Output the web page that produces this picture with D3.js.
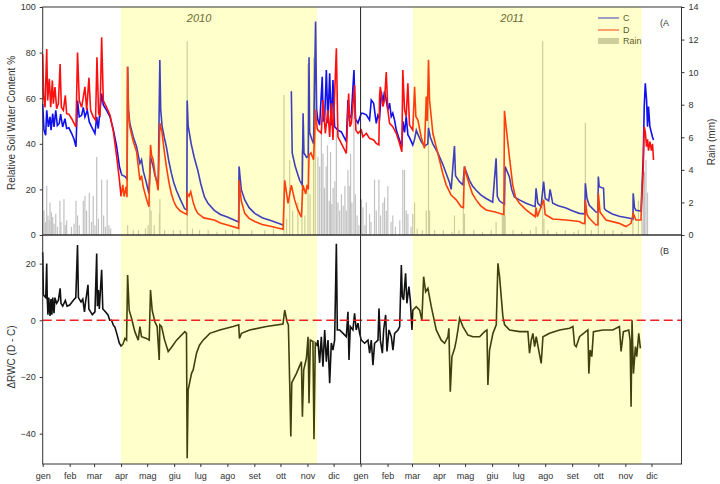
<!DOCTYPE html>
<html>
<head>
<meta charset="utf-8">
<script src="https://cdn.jsdelivr.net/npm/d3@7"></script>
<style>
  body { margin: 0; background: #fff; }
  svg text { font-family: 'Liberation Sans', Arial, sans-serif; fill: #333; }
</style>
</head>
<body>
<div id="chart"></div>
<script>
// day numbers count from 1 Jan 2010
const monthLabels = ['gen', 'feb', 'mar', 'apr', 'mag', 'giu', 'lug', 'ago', 'set', 'ott', 'nov', 'dic'];
const shadedPeriods = [[90, 315], [425, 688]];
const yearLabels = [['2010', 179.5], ['2011', 539]];

// C (blue), relative soil water content %
const rwcC = [[0,57.6],[1.5,46],[3.4,43.8],[4.6,54.7],[6.5,47.4],[8.4,51.8],[9.6,46],[11.5,53.2],[13,47.4],[15,54.7],[16.8,48],[19,48.9],[20.6,53],[22.9,47.4],[25.6,51],[27.5,46.7],[30,47],[33.3,44.5],[36,42],[38.2,38.7],[40,59],[42,51.8],[44.7,52.5],[46.6,56],[48.5,51.8],[51.2,54.7],[53.5,49.6],[56.2,47.4],[60,44.5],[62,51.8],[63.8,46.7],[67.7,62],[69.6,57],[73.4,54.7],[77.3,51.8],[81.2,46],[85,38.7],[88.1,30],[90.8,26.3],[94.7,25.6],[97,24.5],[97.5,73.8],[98.5,55],[100,49],[104,43],[107.8,38.7],[111.6,31.4],[113.5,33],[115.5,28],[119,23],[122,18.2],[123.8,34.3],[126.8,30],[129,26],[132.6,21.9],[134.5,76.7],[135.5,55],[137,48],[139.5,43],[142,38.7],[145,32],[147.8,27],[150.5,23],[153.5,19.6],[158,15.6],[163,11.5],[165.5,11],[165.9,59],[167,48],[170.5,40],[174,34],[178,28.5],[181.5,22.5],[185.7,16.7],[190,13.8],[197,10.8],[204,9],[212,7.9],[225,5.7],[225.5,30],[228,20],[232,15.4],[237,12],[243.5,9.5],[252,7.6],[262.6,6.3],[276,4.4],[277,null],[285.5,63],[286.5,36],[290,30],[295,24],[298,22],[299,53.4],[300,36],[303,34],[305,34.5],[305.8,78],[306.5,45],[309,42],[311,40],[313.4,93.6],[314.5,55],[316,50.4],[318,48.2],[321,69.4],[322,50],[323.7,50.4],[325.7,72.4],[327.5,49],[329.5,70.9],[331.4,48],[333.3,68],[335.2,47.5],[339,46],[342.9,45.2],[348.6,41],[350.5,59.2],[352,51],[354.4,52.6],[357.4,72.4],[359,51],[362,49.1],[365.8,53.4],
  [367.7,53.4],[371.6,52.7],[375.3,50.4],[377.3,59.2],[380,57.8],[383,49],[384.9,52.6],[386.8,51.2],[388.8,62.9],[390.6,58],[392.5,63],[394.5,59.2],[396.3,54.8],[398.3,57.8],[400.2,51.9],[402,53.4],[404,50.4],[406,46],[409.7,41.7],[412.4,38.7],[413.5,50],[415.5,45],[417.4,52],[419.3,44],[421.2,42.7],[425,39.5],[427,42],[429,46],[431,44],[434.6,41],[438.4,39],[442.2,40],[443,47],[445,43],[448,40],[453.7,36],[459.4,31],[463.3,27],[467.1,23],[469,20],[472.8,39],[474,26],[478.6,23.4],[482.5,22],[484.3,30],[486,28],[490,24],[493.5,21.5],[497.7,19.6],[503,17.6],[509.2,16],[516.7,14.4],[520.6,33.6],[522,17],[524.4,15],[528.2,14],[530.2,13.5],[531,30],[532.1,29],[535.9,25.5],[538.5,20],[541.6,16.7],[547.4,15.4],[555,13.9],[565.4,12.4],[566.5,20.5],[568.5,14],[572.2,12.4],[575.2,23.4],[577,16],[581,15],[582.6,20],[585.6,13.9],[592,12.8],[600.9,11.8],[608,10.6],[616.2,9.5],[622.5,9.3],[623.1,22.7],[625,16],[627.6,13],[635.3,10.1],[637.5,10],[638,25.6],[639,21.2],[644,20.5],[645,11.5],[646.8,10.8],[654,9.2],[662,8.2],[675.5,7.2],[677.8,7],[678.1,18.2],[679.5,12],[681.2,10.8],[686.9,10.5],[689.6,34.3],[690.7,56.3],[691.9,66.5],[693.4,59.2],[694.5,47.5],[695.6,56.3],[697.2,47.5],[700.2,43],[701.4,41.7]];

// D (red), relative soil water content %
const rwcD = [[0,79.4],[1.1,60.5],[2.7,56],[4.6,81.6],[5.7,59],[7.6,68.5],[9.2,56],[11.1,67.8],[12.2,57.6],[14.1,64.9],[16,55.4],[18,57.6],[20,75],[21.4,56],[23.7,54.7],[26,61.2],[27.5,53.2],[30,53],[33.3,51],[36,49],[38.2,47.4],[40,80],[42,59],[44.7,56],[48.5,65],[50.5,54.7],[53.1,69],[55,54.7],[58,51.8],[60.7,50.3],[62.3,78],[64.2,53.2],[65.8,52.5],[67.7,86.7],[69.6,59],[73.4,56],[77.3,52.5],[81.2,45.2],[85,34.3],[88.1,24.1],[90,16.9],[92,22],[93.5,16.9],[95.8,21.2],[96.8,16.6],[97.5,73.8],[98.5,54],[100,47.5],[104,41],[107.8,36.5],[111.6,24],[113.5,26],[115.5,21],[119,16],[122,12.4],[123.8,39.5],[125,35],[126.8,33],[129,27],[132.6,19.6],[134.5,49],[137,45],[139.5,37],[142,30],[145,23],[147.8,18],[150.5,14.8],[153.5,12.4],[158,10.5],[163,9.5],[165.6,9],[166,18.2],[168,17],[170,19],[173,14],[175.5,11.3],[178,9.5],[185,7.5],[197,6.6],[204,5.3],[212,4.4],[225,2.9],[225.5,24],[228,15],[232,9.5],[237,7.3],[243.5,5.9],[252,4.6],[262.6,3.7],[276,2.5],[277.9,24],[281.7,13.9],[285.5,21.9],[289.3,15.4],[293,11],[297,7.8],[298.8,21.9],[302,18],[303.5,22],[305,20],[305.8,35],[308,36],[311,33],[313.4,55],[315,47],[316,46],[319.9,44.6],[321.8,59.2],[324.5,44.6],[327.5,54.8],[329.5,43],[331.4,57.8],[333.3,41.7],[337.2,81.9],[339,43],[342.9,40.2],[348.6,35.8],[351.3,62],[352.8,47.5],[354.4,49],[358.1,65.8],[359.6,46],[362,44.6],[365.8,46],
  [367.7,43],[371.6,44.6],[375.3,42.4],[380,41.7],[383,40.2],[386,39.5],[386.8,60.7],[387.7,65],[390.6,56.3],[392.5,59.2],[394.5,71.5],[396.3,54.8],[398.3,49],[402,47.5],[406,44.6],[409.7,40.2],[412.4,36.5],[413.5,72.4],[415.5,55],[417.4,52],[419.3,66.5],[421.2,48.2],[425,46],[427,65],[428.5,52],[430.8,50.4],[434.6,43],[438.4,38],[440.4,60.7],[441.5,50],[443,76.7],[444.2,59.2],[448,44.6],[453.7,35.8],[459.4,27],[463.3,22],[469,17.5],[474.8,15.4],[480.5,12.4],[483.1,12],[484.3,30],[486,27],[490,21.9],[493.5,18],[497.7,15.4],[503,12.8],[509.2,11],[520.6,10],[524.4,9.5],[529.5,9],[530.2,54.5],[532.1,47.5],[535.9,34.3],[539.7,21.9],[543,16.5],[547.4,13.9],[555,11],[565.4,8],[566.5,12],[568,8],[575.2,15.4],[577,9],[585.6,7],[600.9,6.6],[616.2,5.9],[620,5.1],[622.5,5],[623.1,15.4],[625,9],[627.6,7.3],[635.3,4.4],[637.5,4.5],[638,18.2],[640,10],[646.8,6.6],[662,5.1],[669.7,3.7],[675.5,5.1],[678.1,9.5],[681.2,6.6],[686.9,6.6],[689.6,30],[690.7,47.5],[691.9,45.2],[693.4,38.7],[694.5,42],[695.6,37],[697.2,41],[699,37],[700.2,40],[701.4,32.9]];

// delta RWC (D - C)
const deltaRWC = [[0,24],[0.8,9],[2,8.5],[3.5,8],[4.6,20],[5.2,8],[6,2],[7,8],[8.4,1.5],[9.5,7.5],[10.5,2],[11.5,8],[13,2.5],[14,8],[16,6],[18,7],[20,11.3],[21,6],[23,5],[26,7],[28,5],[31,5.4],[35,7],[38,8],[40,26.6],[41,8],[44,6.5],[46,7.5],[48,3],[49,6],[52,12.5],[53,4],[55,3],[57,2],[60,3],[62,23.6],[62.8,5],[64,10.7],[65,4],[67.7,17.8],[69,4],[72,3],[75,1.9],[77,0],[79,0],[81,-1.6],[83,-2.5],[85,-4.6],[88,-8.1],[90,-9.1],[92,-8.5],[94.4,-6.4],[96.3,-7],[97.5,16],[99.3,3.6],[102,0.7],[105.8,-4],[109.7,-7],[111.6,-2.2],[113.5,-5.8],[119.2,-6.4],[122.3,-7],[123.8,10.7],[125.7,3.6],[128.8,-0.5],[131.4,-2.2],[133.8,-14],[134.5,-1.6],[136.5,-2.2],[140,-7],[144.1,-11],[148,-9.5],[153.7,-7],[163.2,-4],[165.1,-4.6],[165.9,-48.7],[167,-24.6],[170.9,-18.7],[172.8,-17.5],[176.6,-11.6],[180,-8.8],[184.2,-7],[191.9,-4.6],[203.3,-3.4],[218.6,-2.2],[225.1,-1.6],[225.9,-6.4],[228.2,-4.6],[237.7,-3.4],[256.9,-2.2],[275.9,-1.3],[277.9,3.6],[280.6,-0.5],[282.1,-1.6],[283.6,-22],[284.9,-41],[286,-22],[291.4,-18.7],[297.1,-14.6],[298.2,-34],[299.7,-17.5],[302.8,-13.4],[304.7,-5.8],[305.8,-29.3],[307.3,-7],[310.3,-7.5],[311.5,-42],[313,-8],[314.9,-8.7],[316,-7],[318,-15],[319.9,-5.8],[321.8,-16.4],[323.8,-3.4],[325.7,-14.6],[327.6,-7],[329.5,-22.2],[331.4,-8],[333.3,-10.5],[335.2,-7],[337.2,27],[338.3,-3.4],[341,-3.4],[344.9,-4.6],[348.6,-5.8],[350.5,3],[351.7,-14],[353.2,-2.2],[356.2,-3.4],[358.1,2.5],[360,-3.4],[362,-1],[363.9,-4.6],
  [365.8,-7],[369.6,-8.1],[373.5,-7],[375.4,-11.6],[377.3,-7],[379.2,-15.8],[381.1,-8.1],[385,-7],[386.1,4.2],[387.7,-7],[390,-11.6],[391.5,-3.4],[393.8,1.9],[395.3,-11],[397.6,-3.4],[400.3,-5.8],[402.2,-10.5],[404.1,-4.6],[408,-3.4],[409.9,-2.2],[411.8,19.5],[412.9,8.4],[414.4,7.2],[416.7,16.6],[418.2,6],[420.5,11.9],[422.1,7.2],[424,-3.4],[425.1,3.6],[428.9,4.8],[432.8,3.6],[435.4,0],[437.4,15.4],[439.7,10.1],[442.3,11.3],[446.2,4.8],[451.9,-3.4],[457.6,-7],[461.5,-8.1],[465.3,-5.8],[466.4,-2.8],[468,-25.2],[469.9,-12.8],[473,-9.9],[474.9,-7],[476.8,-3.4],[478.7,0.7],[482.5,-2.2],[488.3,-5.2],[494,-5.8],[501.7,-5.8],[507.4,-4],[510.1,-3.4],[511.2,-22.8],[513.1,-10.5],[517,-4.6],[520.8,-1.6],[522.7,20.1],[524.6,15.4],[528.4,1.3],[530.4,-1.6],[536.1,-3.4],[547.6,-4],[557.1,-4],[559,-11.6],[561,-7],[562.9,-4.6],[564.8,-9.3],[566.7,-5.8],[572.4,-15.2],[574.4,-5.8],[582,-4.6],[593.5,-3.4],[605,-2.8],[608.8,-2.2],[610.7,-8.7],[612.6,-9.3],[616.4,-5.8],[626,-3.4],[627.1,-18.8],[628.6,-10.5],[630.5,-12.8],[632.4,-4],[643.1,-3.4],[654.6,-3.4],[662.2,-2.2],[664.1,-11],[666.8,-4],[672.9,-3.4],[674.5,-7],[675.6,-30.5],[676.7,0],[678.3,-18.8],[680.6,-9.3],[682.1,-12.8],[684.4,-4.6],[686.3,-9.9]];

// daily rain, mm
const rain = [[1.5,1.5],[3,0.8],[4.6,3.0],[6,1.2],[7.5,0.9],[8.4,2.0],[10,1.4],[11.5,1.1],[13,0.7],[15,1.3],[17,0.5],[19.8,2.1],[21,0.8],[24.4,2.2],[26,0.6],[27.5,0.9],[33,0.5],[36,0.7],[38.2,2.1],[40,1.2],[42,0.6],[46.6,2.1],[48.5,2.4],[50.4,1.5],[53.5,2.6],[56,0.8],[58,2.4],[60,0.6],[62,4.8],[64,1.0],[67.7,3.4],[70,1.2],[72,0.5],[74,3.4],[76,0.6],[78,0.4],
  [97.5,0.6],[104,0.3],[110,0.3],[118,0.4],[121,0.6],[123,2.1],[124.5,1.5],[128,0.6],[134,1.3],[134.6,2.2],[140,0.3],[150,0.3],[158,0.3],[165.9,11.9],[172,0.4],[180,0.3],[190,0.3],[200,0.2],[210,0.3],[218,0.3],[225.5,4.2],[240,0.3],[255,0.3],[265,0.4],[277,8.6],[280,1.0],[283.6,4.6],[287,1.5],[293,2.0],[297.7,5.2],[301,1.2],[304.6,10.5],[307,2.5],[311,10.9],[313,13.0],
  [316,4.8],[318,4.2],[320,6.6],[321.8,5.0],[323.5,2.9],[325.5,4.2],[327,5.5],[329,2.1],[330.5,5.1],[332,1.9],[333.5,2.9],[335.5,3.3],[337.2,6.5],[339,2.0],[341,1.5],[343,2.5],[345,1.8],[347,3.0],[348.6,1.5],[350.5,4.0],[352,3.0],[353.5,5.0],[355,2.0],[357.4,9.9],[359,2.5],[361,1.2],[363,0.6],
  [366,2.2],[367.7,1.7],[370,0.6],[371.6,2.0],[375.3,1.3],[377,0.8],[381,3.4],[383,1.5],[386,3.4],[388,1.2],[390.6,2.0],[392.5,2.3],[394.5,1.5],[396.3,3.0],[400,0.8],[402,1.2],[405,0.5],[410,0.9],[413.5,4.0],[415.5,4.0],[417.4,1.5],[419.3,1.3],[423,0.5],[425,1.3],[427,2.0],[430,0.4],[436,0.3],[440.4,1.5],[443,10.8],[444.2,1.5],[450,0.3],[460,0.3],[470,0.2],[472.8,1.2],[478,0.3],[483,2.6],[484.3,1.3],[495,0.3],[505,0.2],[515,0.3],[520.6,0.8],[527.8,1.3],[529,1.8],[530.2,2.0],[531,1.2],[540,0.3],[550,0.2],[560,0.3],[566.5,0.5],[574.1,11.9],[575.5,1.0],[580,0.3],[590,0.2],[600,0.3],[610,0.2],[615,0.3],[623.1,6.9],[630,0.3],[638,1.3],[645,0.3],[655,0.3],[665,0.2],[677.7,2.6],[684,2.1],[688,1.0],[689.6,4.8],[691,3.9],[692.7,4.6],[694.5,2.6]];

const rwcTicks = [0, 20, 40, 60, 80, 100];
const rainTicks = [0, 2, 4, 6, 8, 10, 12, 14];
const deltaTicks = [-40, -20, 0, 20];

const startDate = Date.UTC(2010, 0, 1);
const toDate = day => new Date(startDate + day * 864e5);

const width = 720;
const height = 484;
const left = 42.7;
const right = 681.5;
const topA = 7;
const bottomA = 235;
const bottomB = 464;

const svg = d3.select('#chart')
  .append('svg')
  .attr('width', width)
  .attr('height', height);

const x = d3.scaleUtc()
  .domain([toDate(0), toDate(733.5)])
  .range([left, right]);

const yA = d3.scaleLinear().domain([0, 100]).range([bottomA, topA]);
const yRain = d3.scaleLinear().domain([0, 14]).range([bottomA, topA]);
const yB = d3.scaleLinear().domain([-50.7, 30.1]).range([bottomB, bottomA]);

// rain bars
svg.append('g')
  .selectAll('rect')
  .data(rain)
  .enter()
  .append('rect')
  .attr('x', d => x(toDate(d[0])) - 0.6)
  .attr('width', 1.2)
  .attr('y', d => yRain(d[1]))
  .attr('height', d => yRain(0) - yRain(d[1]))
  .attr('fill', '#c2c2c2');

const lineA = d3.line()
  .defined(d => d[1] !== null)
  .x(d => x(toDate(d[0])))
  .y(d => yA(d[1]));

svg.append('path')
  .datum(rwcC)
  .attr('d', lineA)
  .attr('fill', 'none')
  .attr('stroke', '#1010ee')
  .attr('stroke-width', 1.6);

svg.append('path')
  .datum(rwcD)
  .attr('d', lineA)
  .attr('fill', 'none')
  .attr('stroke', '#ff1010')
  .attr('stroke-width', 1.6);

const lineB = d3.line()
  .x(d => x(toDate(d[0])))
  .y(d => yB(d[1]));

svg.append('path')
  .datum(deltaRWC)
  .attr('d', lineB)
  .attr('fill', 'none')
  .attr('stroke', '#111')
  .attr('stroke-width', 1.6);

// legend
const legend = svg.append('g').attr('transform', 'translate(598,18)');
legend.append('line').attr('x1', 0).attr('x2', 21).attr('y1', 0).attr('y2', 0).attr('stroke', '#1010ee');
legend.append('line').attr('x1', 0).attr('x2', 21).attr('y1', 12).attr('y2', 12).attr('stroke', '#ff1010');
legend.append('rect').attr('x', 0).attr('y', 20).attr('width', 21).attr('height', 6).attr('fill', '#c2c2c2');
[['C', 0], ['D', 12], ['Rain', 23]].forEach(l => {
  legend.append('text')
    .attr('x', 25)
    .attr('y', l[1])
    .attr('dy', '0.35em')
    .attr('font-size', 9)
    .text(l[0]);
});

svg.selectAll('.year')
  .data(yearLabels)
  .enter()
  .append('text')
  .attr('class', 'year')
  .attr('x', d => x(toDate(d[1])))
  .attr('y', 22)
  .attr('text-anchor', 'middle')
  .attr('font-size', 11)
  .attr('font-style', 'italic')
  .style('fill', '#444')
  .text(d => d[0]);

// growing season shading laid over the data
svg.selectAll('.season')
  .data(shadedPeriods)
  .enter()
  .append('rect')
  .attr('class', 'season')
  .attr('x', d => x(toDate(d[0])))
  .attr('width', d => x(toDate(d[1])) - x(toDate(d[0])))
  .attr('y', topA)
  .attr('height', bottomB - topA)
  .attr('fill', '#ffff00')
  .attr('fill-opacity', 0.2);

// zero line
svg.append('line')
  .attr('x1', left)
  .attr('x2', right)
  .attr('y1', yB(0))
  .attr('y2', yB(0))
  .attr('stroke', '#ee2222')
  .attr('stroke-width', 1.5)
  .attr('stroke-dasharray', '9,4.5');

// year separator
svg.append('line')
  .attr('x1', x(toDate(365)))
  .attr('x2', x(toDate(365)))
  .attr('y1', topA)
  .attr('y2', bottomB)
  .attr('stroke', '#222')
  .attr('stroke-width', 1);

// frames
svg.append('rect')
  .attr('x', left).attr('y', topA)
  .attr('width', right - left).attr('height', bottomA - topA)
  .attr('fill', 'none').attr('stroke', '#333');
svg.append('rect')
  .attr('x', left).attr('y', bottomA)
  .attr('width', right - left).attr('height', bottomB - bottomA)
  .attr('fill', 'none').attr('stroke', '#333');

function styleAxis(g) {
  g.select('.domain').remove();
  g.selectAll('.tick line').attr('stroke', '#333');
  g.selectAll('.tick text').attr('font-size', 9).attr('font-family', null).style('fill', '#333');
}

svg.append('g')
  .attr('transform', `translate(${left},0)`)
  .call(d3.axisLeft(yA).tickValues(rwcTicks).tickSize(3).tickPadding(4))
  .call(styleAxis);

svg.append('g')
  .attr('transform', `translate(${right},0)`)
  .call(d3.axisRight(yRain).tickValues(rainTicks).tickSize(3).tickPadding(4))
  .call(styleAxis);

svg.append('g')
  .attr('transform', `translate(${left},0)`)
  .call(d3.axisLeft(yB).tickValues(deltaTicks).tickSize(3).tickPadding(4))
  .call(styleAxis);

const monthTicks = d3.utcMonth.range(toDate(0), toDate(700));
svg.append('g')
  .attr('transform', `translate(0,${bottomB})`)
  .call(d3.axisBottom(x).tickValues(monthTicks).tickSize(3).tickPadding(5.5)
    .tickFormat(d => monthLabels[d.getUTCMonth()]))
  .call(styleAxis);

// axis titles and panel tags
svg.append('text')
  .attr('transform', `translate(15,${(topA + bottomA) / 2 + 2}) rotate(-90)`)
  .attr('text-anchor', 'middle')
  .attr('font-size', 10)
  .text('Relative Soil Water Content %');

svg.append('text')
  .attr('transform', `translate(15,357) rotate(-90)`)
  .attr('text-anchor', 'middle')
  .attr('font-size', 10)
  .text('\u0394RWC (D - C)');

svg.append('text')
  .attr('transform', `translate(715,142) rotate(-90)`)
  .attr('text-anchor', 'middle')
  .attr('font-size', 10)
  .text('Rain (mm)');

svg.append('text').attr('x', 660).attr('y', 26).attr('font-size', 9).text('(A');
svg.append('text').attr('x', 660).attr('y', 254).attr('font-size', 9).text('(B');
</script>
</body>
</html>
